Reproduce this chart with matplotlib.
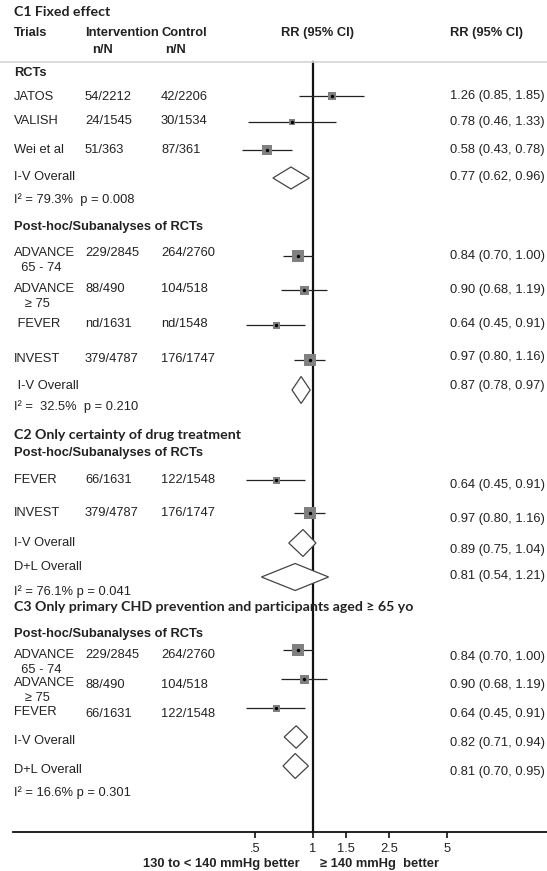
import numpy as np
import matplotlib
matplotlib.use("Agg")
import matplotlib.pyplot as plt
from matplotlib.transforms import blended_transform_factory

# ---------------- data ----------------
# C1 Fixed effect: RCTs
c1_trials = ["JATOS", "VALISH", "Wei et al"]
c1_int = ["54/2212", "24/1545", "51/363"]
c1_ctl = ["42/2206", "30/1534", "87/361"]
c1_rr = [1.26, 0.78, 0.58]
c1_lo = [0.85, 0.46, 0.43]
c1_hi = [1.85, 1.33, 0.78]
c1_pool = [("I-V Overall", 0.77, 0.62, 0.96)]
c1_het = "I\u00b2 = 79.3%  p = 0.008"

# C1 Fixed effect: post-hoc / subanalyses of RCTs
c1b_trials = ["ADVANCE\n  65 - 74", "ADVANCE\n   \u2265 75", " FEVER", "INVEST"]
c1b_int = ["229/2845", "88/490", "nd/1631", "379/4787"]
c1b_ctl = ["264/2760", "104/518", "nd/1548", "176/1747"]
c1b_rr = [0.84, 0.90, 0.64, 0.97]
c1b_lo = [0.70, 0.68, 0.45, 0.80]
c1b_hi = [1.00, 1.19, 0.91, 1.16]
c1b_pool = [(" I-V Overall", 0.87, 0.78, 0.97)]
c1b_het = "I\u00b2 =  32.5%  p = 0.210"

# C2 Only certainty of drug treatment
c2_trials = ["FEVER", "INVEST"]
c2_int = ["66/1631", "379/4787"]
c2_ctl = ["122/1548", "176/1747"]
c2_rr = [0.64, 0.97]
c2_lo = [0.45, 0.80]
c2_hi = [0.91, 1.16]
c2_pool = [("I-V Overall", 0.89, 0.75, 1.04), ("D+L Overall", 0.81, 0.54, 1.21)]
c2_het = "I\u00b2 = 76.1% p = 0.041"

# C3 Only primary CHD prevention and participants aged >= 65 yo
c3_trials = ["ADVANCE\n  65 - 74", "ADVANCE\n   \u2265 75", "FEVER"]
c3_int = ["229/2845", "88/490", "66/1631"]
c3_ctl = ["264/2760", "104/518", "122/1548"]
c3_rr = [0.84, 0.90, 0.64]
c3_lo = [0.70, 0.68, 0.45]
c3_hi = [1.00, 1.19, 0.91]
c3_pool = [("I-V Overall", 0.82, 0.71, 0.94), ("D+L Overall", 0.81, 0.70, 0.95)]
c3_het = "I\u00b2 = 16.6% p = 0.301"

tick_vals = [0.5, 1, 1.5, 2.5, 5]
tick_labels = [".5", "1", "1.5", "2.5", "5"]

# ---------------- layout (pixel rows from top) ----------------
W, H = 547, 871
X_NULL, PX_PER_LN = 312.7, 83.2          # position of RR = 1 and log-scale spacing
AXIS_Y, SEP_Y = 831.7, 62
COL_NAME, COL_INT, COL_CTL, COL_RR = 14, 85, 161, 450
SUB_GAP = 15                              # second line of a two-line trial name

# (label y, counts y, marker y, RR-text y, box side px)
c1_rows = [(97, 97, 96, 96, 8), (121, 121, 122.5, 122, 6), (150, 150, 150, 150, 10)]
c1b_rows = [(252.7, 252.7, 256, 256, 12.5), (289, 289, 290, 290, 9),
            (324, 324, 325, 324, 7), (359, 359, 360, 357, 11.5)]
c2_rows = [(480, 480, 479.5, 485, 7), (513, 513, 512.7, 519, 12)]
c3_rows = [(655, 655, 650, 657, 12), (683.3, 685, 679, 685, 9), (711.7, 714, 708, 714, 7)]
# (label y, diamond y, RR-text y, diamond height px)
c1_pool_rows = [(177, 178, 177, 22)]
c1b_pool_rows = [(386, 390, 386, 27)]
c2_pool_rows = [(543, 543, 550, 27), (567, 577, 576, 27)]
c3_pool_rows = [(741, 737, 743, 22.5), (770, 766, 772, 25)]

TXT = "#222222"
BOX = "#808080"
SANS = ["Liberation Sans", "DejaVu Sans"]
TITLE = ["Lato", "DejaVu Sans"]
FS = 9.3
TFS = 10.2

fig = plt.figure(figsize=(W / 100, H / 100), dpi=100)
ax = fig.add_axes([0, 0, 1, 1])
ax.set_xscale("log")
ax.set_xlim(np.exp(-X_NULL / PX_PER_LN), np.exp((W - X_NULL) / PX_PER_LN))
ax.set_ylim(H, 0)
ax.patch.set_visible(False)
tr = blended_transform_factory(ax.transAxes, ax.transData)


def txt(x, y, s, bold=False, ha="left", family=SANS, size=FS, **kw):
    ax.text(x / W, y, s, transform=tr, ha=ha, va="center", fontsize=size,
            fontweight="bold" if bold else "normal", family=family, color=TXT, **kw)


def study_block(names, ints, ctls, rr, lo, hi, rows):
    for name, a, b, r, l, h, (yl, yc, ym, yr, side) in zip(names, ints, ctls, rr, lo, hi, rows):
        for k, line in enumerate(name.split("\n")):
            txt(COL_NAME, yl + k * SUB_GAP, line)
        txt(COL_INT, yc, a)
        txt(COL_CTL, yc, b)
        ax.plot([l, h], [ym, ym], color="#222222", lw=0.9, solid_capstyle="butt", zorder=2)
        ax.scatter([r], [ym], marker="s", s=(side * 0.72) ** 2, color=BOX, lw=0, zorder=3)
        ax.scatter([r], [ym], marker="o", s=6, color="black", lw=0, zorder=4)
        txt(COL_RR, yr, f"{r:.2f} ({l:.2f}, {h:.2f})")


def pooled_block(pools, rows):
    for (name, r, l, h), (yl, ym, yr, ht) in zip(pools, rows):
        txt(COL_NAME, yl, name)
        ax.fill([l, r, h, r], [ym, ym - ht / 2, ym, ym + ht / 2], facecolor="white",
                edgecolor="#444444", lw=0.9, zorder=3)
        txt(COL_RR, yr, f"{r:.2f} ({l:.2f}, {h:.2f})")


# headers
txt(14, 12, "C1 Fixed effect", bold=True, family=TITLE, size=TFS)
txt(COL_NAME, 33, "Trials", bold=True)
txt(COL_INT, 33, "Intervention", bold=True)
txt(COL_CTL, 33, "Control", bold=True)
txt(92, 50, "n/N", bold=True)
txt(165, 50, "n/N", bold=True)
txt(317.5, 33, "RR (95% CI)", bold=True, ha="center")
txt(486.5, 33, "RR (95% CI)", bold=True, ha="center")
ax.plot([0, 1], [SEP_Y, SEP_Y], transform=tr, color="#d4d4d4", lw=1.2, clip_on=False)

# C1
txt(COL_NAME, 73, "RCTs", bold=True)
study_block(c1_trials, c1_int, c1_ctl, c1_rr, c1_lo, c1_hi, c1_rows)
pooled_block(c1_pool, c1_pool_rows)
txt(COL_NAME, 200, c1_het)

txt(COL_NAME, 227, "Post-hoc/Subanalyses of RCTs", bold=True)
study_block(c1b_trials, c1b_int, c1b_ctl, c1b_rr, c1b_lo, c1b_hi, c1b_rows)
pooled_block(c1b_pool, c1b_pool_rows)
txt(COL_NAME, 407, c1b_het)

# C2
txt(14, 435, "C2 Only certainty of drug treatment", bold=True, family=TITLE, size=TFS)
txt(COL_NAME, 453, "Post-hoc/Subanalyses of RCTs", bold=True)
study_block(c2_trials, c2_int, c2_ctl, c2_rr, c2_lo, c2_hi, c2_rows)
pooled_block(c2_pool, c2_pool_rows)
txt(COL_NAME, 592, c2_het)

# C3
txt(14, 607, "C3 Only primary CHD prevention and participants aged \u2265 65 yo",
    bold=True, family=TITLE, size=TFS)
txt(COL_NAME, 634, "Post-hoc/Subanalyses of RCTs", bold=True)
study_block(c3_trials, c3_int, c3_ctl, c3_rr, c3_lo, c3_hi, c3_rows)
pooled_block(c3_pool, c3_pool_rows)
txt(COL_NAME, 793, c3_het)

# line of no effect
ax.plot([1, 1], [SEP_Y, AXIS_Y], color="#111111", lw=1.6, zorder=1)

# x axis
for side in ("top", "left", "right"):
    ax.spines[side].set_visible(False)
ax.spines["bottom"].set_position(("data", AXIS_Y))
ax.spines["bottom"].set_bounds(np.exp((13.3 - X_NULL) / PX_PER_LN), ax.get_xlim()[1])
ax.spines["bottom"].set_linewidth(1.3)
ax.spines["bottom"].set_color("#111111")
ax.set_yticks([])
ax.set_xticks(tick_vals)
ax.set_xticklabels(tick_labels)
ax.xaxis.set_minor_locator(matplotlib.ticker.NullLocator())
ax.tick_params(axis="x", direction="out", length=4, width=1.2, pad=4,
               labelsize=FS, labelcolor=TXT, color="#111111")
for lab in ax.get_xticklabels():
    lab.set_family(SANS)

txt(300, 864, "130 to < 140 mmHg better", bold=True, ha="right")
txt(320, 864, "\u2265 140 mmHg  better", bold=True)

fig.savefig("out.png", dpi=100)
